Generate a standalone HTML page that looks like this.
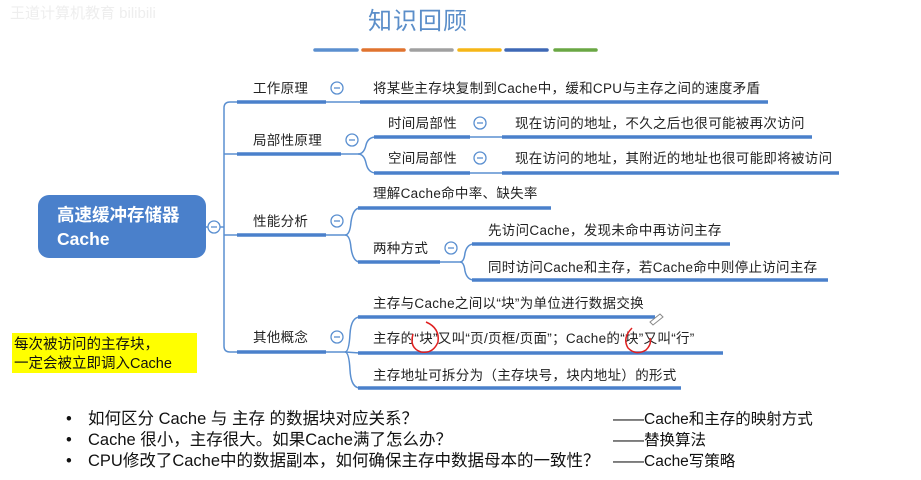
<!DOCTYPE html>
<html><head><meta charset="utf-8"><style>
html,body{margin:0;padding:0;background:#fff;}
svg{display:block;font-family:"Liberation Sans","Noto Sans CJK SC",sans-serif;}
.t{font-size:13.5px;fill:#222;letter-spacing:0.3px;}
.b{font-size:16.5px;fill:#111;}
.r{font-size:15.5px;fill:#111;}
</style></head><body>
<svg width="921" height="480" viewBox="0 0 921 480" xmlns="http://www.w3.org/2000/svg">
<text x="10" y="18" font-size="15" fill="#eee">王道计算机教育 bilibili</text>
<text x="418" y="29" font-size="24" fill="#5b8ec9" text-anchor="middle" letter-spacing="1">知识回顾</text>
<g stroke-width="3.5" stroke-linecap="round">
<line x1="315" y1="50" x2="357" y2="50" stroke="#5b8fcf"/>
<line x1="363" y1="50" x2="404" y2="50" stroke="#e0732f"/>
<line x1="411" y1="50" x2="452" y2="50" stroke="#a0a0a0"/>
<line x1="459" y1="50" x2="500" y2="50" stroke="#f5b617"/>
<line x1="506" y1="50" x2="547" y2="50" stroke="#3e68b5"/>
<line x1="555" y1="50" x2="596" y2="50" stroke="#6aa744"/>
</g>
<rect x="38" y="195" width="168" height="63" rx="11" fill="#4a80cb"/>
<text x="57" y="221" font-size="17.5" fill="#fff" font-weight="bold">高速缓冲存储器</text>
<text x="57" y="245" font-size="17.5" fill="#fff" font-weight="bold">Cache</text>
<g fill="none" stroke="#5a8fd0" stroke-width="1.5">
<line x1="206" y1="227" x2="208" y2="227"/>
<line x1="220" y1="227" x2="224" y2="227"/>
<path d="M237 102 H230 Q224 102 224 108 V346 Q224 352 230 352 H237"/>
<line x1="224" y1="154" x2="237" y2="154"/>
<line x1="224" y1="235" x2="237" y2="235"/>
<line x1="326" y1="102" x2="360" y2="102"/>
<path d="M341 154 H358 Q364 154 366 145 Q368 137 376 137"/>
<path d="M358 154 Q364 154 366 163 Q368 173 376 173"/>
<line x1="470" y1="137" x2="502" y2="137"/>
<line x1="470" y1="173" x2="502" y2="173"/>
<path d="M326 235 H345 Q350 235 351 222 Q353 208 360 208"/>
<path d="M345 235 Q350 235 351 248 Q353 262 360 262"/>
<path d="M440 262 H460 Q464 262 465 253 Q467 244 474 244"/>
<path d="M460 262 Q464 262 465 271 Q467 280 474 280"/>
<path d="M326 352 H345 Q349 352 350 334 Q351 317 360 317"/>
<path d="M345 352 Q349 352 350 370 Q351 388 360 388"/>
<line x1="345" y1="352" x2="360" y2="353"/>
</g>
<g stroke="#4a80cb" stroke-width="3.5">
<line x1="237" y1="102" x2="326" y2="102"/>
<line x1="360" y1="102" x2="768" y2="102"/>
<line x1="237" y1="154" x2="341" y2="154"/>
<line x1="374" y1="137" x2="470" y2="137"/>
<line x1="502" y1="137" x2="812" y2="137"/>
<line x1="374" y1="173" x2="470" y2="173"/>
<line x1="502" y1="173" x2="839" y2="173"/>
<line x1="237" y1="235" x2="326" y2="235"/>
<line x1="358" y1="208" x2="551" y2="208"/>
<line x1="358" y1="262" x2="440" y2="262"/>
<line x1="472" y1="244" x2="730" y2="244"/>
<line x1="472" y1="280" x2="828" y2="280"/>
<line x1="237" y1="352" x2="326" y2="352"/>
<line x1="358" y1="317" x2="655" y2="317"/>
<line x1="358" y1="353" x2="723" y2="353"/>
<line x1="358" y1="388" x2="681" y2="388"/>
</g>
<g fill="#fff" stroke="#5a8fd0" stroke-width="1.3">
<circle cx="214" cy="227" r="6"/><circle cx="337" cy="88" r="6"/><circle cx="352" cy="140" r="6"/>
<circle cx="480" cy="123" r="6"/><circle cx="480" cy="158" r="6"/><circle cx="337" cy="221" r="6"/>
<circle cx="451" cy="248" r="6"/><circle cx="337" cy="337" r="6"/>
</g>
<g stroke="#5a8fd0" stroke-width="1.3">
<line x1="211" y1="227" x2="217" y2="227"/><line x1="334" y1="88" x2="340" y2="88"/><line x1="349" y1="140" x2="355" y2="140"/>
<line x1="477" y1="123" x2="483" y2="123"/><line x1="477" y1="158" x2="483" y2="158"/><line x1="334" y1="221" x2="340" y2="221"/>
<line x1="448" y1="248" x2="454" y2="248"/><line x1="334" y1="337" x2="340" y2="337"/>
</g>
<text class="t" x="253" y="93">工作原理</text>
<text class="t" x="253" y="145">局部性原理</text>
<text class="t" x="253" y="226">性能分析</text>
<text class="t" x="253" y="342">其他概念</text>
<text class="t" x="373" y="93">将某些主存块复制到Cache中，缓和CPU与主存之间的速度矛盾</text>
<text class="t" x="388" y="128">时间局部性</text>
<text class="t" x="388" y="163">空间局部性</text>
<text class="t" x="515" y="128">现在访问的地址，不久之后也很可能被再次访问</text>
<text class="t" x="515" y="163">现在访问的地址，其附近的地址也很可能即将被访问</text>
<text class="t" x="373" y="198">理解Cache命中率、缺失率</text>
<text class="t" x="373" y="253">两种方式</text>
<text class="t" x="488" y="235">先访问Cache，发现未命中再访问主存</text>
<text class="t" x="488" y="272">同时访问Cache和主存，若Cache命中则停止访问主存</text>
<text class="t" x="373" y="308">主存与Cache之间以“块”为单位进行数据交换</text>
<text class="t" x="373" y="343">主存的“块”又叫“页/页框/页面”；Cache的“块”又叫“行”</text>
<text class="t" x="373" y="380">主存地址可拆分为（主存块号，块内地址）的形式</text>
<g fill="none" stroke="#e02020" stroke-width="1.5">
<path d="M426 322 Q440 328 438 342 Q433 354 421 352 Q409 348 413 334"/>
<path d="M632 328 Q622 338 628 348 Q636 356 646 350 Q652 344 650 338"/>
</g>
<path d="M650 322 L660 314 L663 317 L653 325 Z" fill="none" stroke="#888" stroke-width="1"/>
<rect x="12" y="333" width="185" height="40" fill="#ffff00"/>
<text x="14" y="349" font-size="14.5" fill="#111">每次被访问的主存块，</text>
<text x="14" y="368" font-size="14.5" fill="#111">一定会被立即调入Cache</text>
<text class="b" x="66" y="424">•</text><text class="b" x="66" y="445">•</text><text class="b" x="66" y="466">•</text>
<text class="b" x="88" y="424">如何区分 Cache 与 主存 的数据块对应关系？</text>
<text class="b" x="88" y="445">Cache 很小，主存很大。如果Cache满了怎么办？</text>
<text class="b" x="88" y="466">CPU修改了Cache中的数据副本，如何确保主存中数据母本的一致性？</text>
<text class="r" x="613" y="424">——Cache和主存的映射方式</text>
<text class="r" x="613" y="445">——替换算法</text>
<text class="r" x="613" y="466">——Cache写策略</text>
</svg>
</body></html>
